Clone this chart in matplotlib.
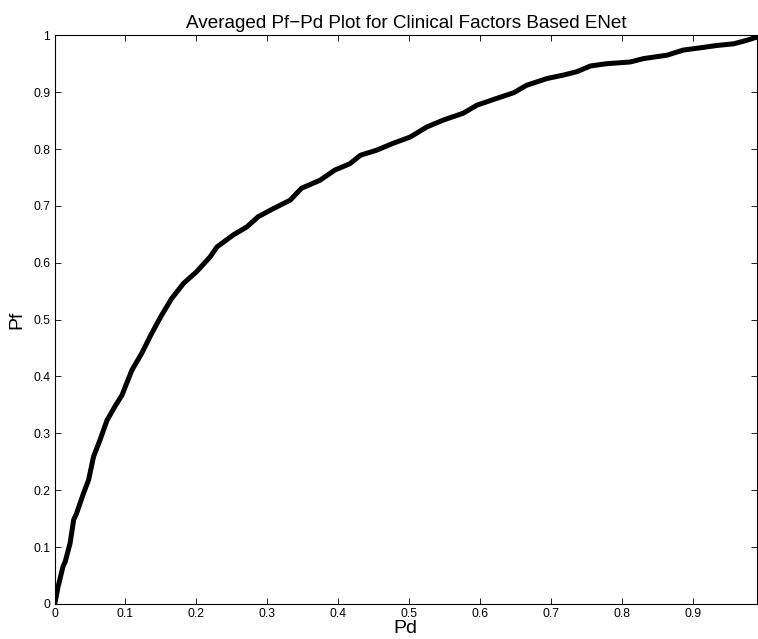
import matplotlib
matplotlib.use("Agg")
import matplotlib.pyplot as plt

pd_vals = [0.0, 0.001, 0.005, 0.012, 0.015, 0.022, 0.027, 0.031, 0.041, 0.048, 0.055,
           0.064, 0.074, 0.085, 0.095, 0.109, 0.123, 0.137, 0.151, 0.165, 0.182,
           0.200, 0.219, 0.229, 0.252, 0.271, 0.287, 0.308, 0.332, 0.348, 0.374,
           0.395, 0.416, 0.431, 0.454, 0.477, 0.501, 0.525, 0.548, 0.576, 0.595,
           0.623, 0.647, 0.665, 0.694, 0.717, 0.736, 0.755, 0.778, 0.811, 0.830,
           0.863, 0.886, 0.910, 0.933, 0.957, 0.975, 0.990]
pf_vals = [0.0, 0.004, 0.030, 0.066, 0.074, 0.107, 0.148, 0.159, 0.195, 0.218, 0.259,
           0.288, 0.323, 0.347, 0.367, 0.411, 0.441, 0.476, 0.508, 0.537, 0.564,
           0.584, 0.610, 0.628, 0.649, 0.663, 0.681, 0.695, 0.710, 0.731, 0.745,
           0.763, 0.774, 0.789, 0.798, 0.810, 0.821, 0.839, 0.851, 0.863, 0.877,
           0.889, 0.899, 0.912, 0.924, 0.930, 0.936, 0.946, 0.950, 0.953, 0.959,
           0.965, 0.974, 0.978, 0.982, 0.985, 0.991, 0.997]

xticks = [0, 0.1, 0.2, 0.3, 0.4, 0.5, 0.6, 0.7, 0.8, 0.9]
xticklabels = ["0", "0.1", "0.2", "0.3", "0.4", "0.5", "0.6", "0.7", "0.8", "0.9"]
yticks = [0, 0.1, 0.2, 0.3, 0.4, 0.5, 0.6, 0.7, 0.8, 0.9, 1]
yticklabels = ["0", "0.1", "0.2", "0.3", "0.4", "0.5", "0.6", "0.7", "0.8", "0.9", "1"]

plt.rcParams['font.family'] = ['Liberation Sans', 'DejaVu Sans']

fig = plt.figure(figsize=(7.58, 6.39), dpi=100)
ax = fig.add_axes([0.0719, 0.0548, 0.927, 0.890])
ax.plot(pd_vals, pf_vals, color='black', linewidth=3.6, solid_joinstyle='round')
ax.set_xlim(0, 0.99)
ax.set_ylim(0, 1)
ax.set_xticks(xticks)
ax.set_xticklabels(xticklabels)
ax.set_yticks(yticks)
ax.set_yticklabels(yticklabels)
ax.tick_params(direction='in', top=True, right=True, length=4.3, width=0.6,
               labelsize=8.7, pad=3)
for s in ax.spines.values():
    s.set_linewidth(0.8)
ax.set_title("Averaged Pf\u2212Pd Plot for Clinical Factors Based ENet", fontsize=13.6, pad=5)
ax.set_xlabel("Pd", fontsize=14, labelpad=0)
ax.set_ylabel("Pf", fontsize=14, labelpad=6)
fig.savefig("out.png", dpi=100)
